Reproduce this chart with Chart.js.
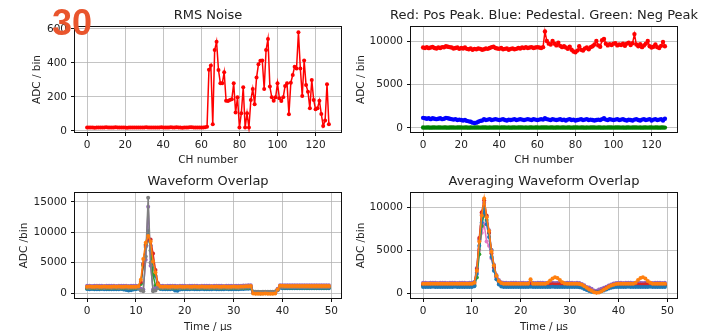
<!doctype html>
<html>
<head>
<meta charset="utf-8">
<title>Noise / Peaks / Waveforms</title>
<script src="https://cdn.jsdelivr.net/npm/chart.js@4.4.1/dist/chart.umd.min.js"></script>
<style>
  html, body { margin: 0; padding: 0; background: #fff; overflow: hidden; }
  #wrap { position: relative; width: 708px; height: 331px; }
  canvas { position: absolute; }
  #num { position: absolute; left: 52px; top: 5px; font: bold 36px/36px "Liberation Sans", Arial, sans-serif; color: #e9552d; z-index: 2; }
</style>
</head>
<body>
<div id="wrap">
  <canvas id="c1" width="354" height="168" style="left:0;top:0"></canvas>
  <canvas id="c2" width="354" height="168" style="left:354px;top:0"></canvas>
  <canvas id="c3" width="354" height="166" style="left:0;top:168px"></canvas>
  <canvas id="c4" width="354" height="166" style="left:354px;top:168px"></canvas>
  <div id="num">30</div>
</div>
<script>
// ---- data ----
var chTicks = [0, 20, 40, 60, 80, 100, 120];
var rmsTicks = [0, 200, 400, 600];
var peakTicks = [0, 5000, 10000];
var timeTicks = [0, 10, 20, 30, 40, 50];
var waveTicks = [0, 5000, 10000, 15000];
var avgTicks = [0, 5000, 10000];

var rms = [20,21,20,20,19,20,21,20,20,20, 22,20,20,21,20,22,20,21,20,20, 20,19,20,20,21,20,20,20,20,21,
  20,22,20,20,20,20,21,20,20,22, 20,20,21,20,22,20,21,22,21,20, 19,20,20,21,22,22,20,20,21,20, 20,21,22,25,
  360,385,40,476,525,359,280,280,345,178, 176,182,186,280,108,198,20,104,257,20, 104,20,182,247,157,314,392,412,414,247,
  476,541,261,198,178,198,280,192,176,198, 265,280,98,284,329,378,367,580,367,206, 414,270,231,133,300,182,127,133,178,100,
  29,61,275,39];

var posPeak = [9250,9200,9300,9180,9250,9320,9200,9150,9250,9200, 9300,9280,9400,9350,9300,9250,9150,9200,9250,9100,
  9200,9150,9250,9100,9050,9150,9000,9100,9050,9150, 9100,9000,9050,9150,9100,9200,9300,9350,9200,9150,
  9100,9200,9050,9100,9150,9000,9100,9150,9050,9100, 9200,9150,9250,9200,9300,9200,9250,9300,9200,9250,
  9300,9250,9200,9300,
  11100,10000,9700,9600,10000,9700,9500,9800,9450,9300, 9400,9250,9100,9350,9000,8800,8700,8900,9400,9000,
  8900,9150,9250,9050,9300,9400,9600,10000,9500,9350, 10100,10250,9700,9500,9650,9550,9700,9750,9500,9600,
  9550,9700,9450,9700,9800,9550,9750,10800,9600,9400, 9650,9300,9500,9700,10000,9400,9250,9350,9600,9300,
  9200,9450,9900,9400];

var pedestal = [1150,1100,1050,1100,1000,1100,1050,1000,1050,1100, 1000,1050,1150,1100,1050,1000,950,1000,900,950,
  900,850,900,800,750,700,600,550,600,700, 800,850,1000,900,950,1000,900,950,1000,950,
  900,950,1000,900,850,950,900,950,1000,900, 950,1000,950,900,950,1000,950,900,1000,950,
  900,950,1000,950,1100,1000,950,900,1000,950, 900,950,1000,900,950,850,950,1000,900,950,
  850,900,950,1000,900,950,1000,900,950,900, 850,900,950,900,1000,1100,950,900,1000,950,
  900,950,1000,900,950,1000,900,850,950,900, 850,950,1000,900,850,950,1000,900,950,1000,
  850,950,1000,900,950,1000,850,1050];

var negPeak = [30,25,35,30,20,30,35,25,30,30, 25,35,30,20,30,35,30,25,30,35, 30,25,30,35,20,30,25,30,35,30,
  25,30,35,30,20,30,25,35,30,30, 25,30,35,30,25,30,20,35,30,25, 30,35,30,25,30,20,30,35,25,30,
  30,25,35,30,40,30,25,35,30,20, 30,35,25,30,30,25,35,30,20,30, 35,30,25,30,35,20,30,25,30,35,
  30,25,30,35,20,30,25,35,30,30, 25,30,35,30,25,30,20,35,30,25, 30,35,30,25,30,20,30,35,25,30,
  30,25,35,30,20,30,35,25];

var channels = rms.map(function (v, i) { return i; });

var times = [0,0.5,1,1.5,2,2.5,3,3.5,4,4.5, 5,5.5,6,6.5,7,7.5,8,8.5,9,9.5, 10,10.5,11,11.5,12,12.5,13,13.5,14,14.5,
  15,15.5,16,16.5,17,17.5,18,18.5,19,19.5, 20,20.5,21,21.5,22,22.5,23,23.5,24,24.5, 25,25.5,26,26.5,27,27.5,28,28.5,29,29.5,
  30,30.5,31,31.5,32,32.5,33,33.5,34,34.5, 35,35.5,36,36.5,37,37.5,38,38.5,39,39.5, 40,40.5,41,41.5,42,42.5,43,43.5,44,44.5,
  45,45.5,46,46.5,47,47.5,48,48.5,49,49.5];

// waveform overlap (single events)
var wOrange = [1050,1060,1040,1050,1070,1050,1040,1060,1050,1050, 1040,1060,1050,1070,1040,1050,1060,1050,1040,1050,
  1050,1100,2200,5600,8300,9400,8500,5200,3400,1400, 1080,1050,1060,1040,1050,1060,1050,1040,1060,1050,
  1050,1060,1040,1050,1060,1050,1040,1060,1050,1050, 1040,1060,1050,1070,1040,1050,1060,1050,1040,1050,
  1060,1050,1040,1060,1080,1100,1120,1150,-80,-120, -100,-130,-110,-90,-120,-100,-110,-80,600,1200,
  1180,1150,1160,1140,1150,1160,1150,1140,1160,1150, 1150,1140,1160,1150,1140,1160,1150,1140,1150,1160];
var wGray = [850,840,860,850,830,850,860,840,850,850, 840,860,850,830,850,860,850,840,850,860,
  850,820,400,300,6000,15700,5000,300,400,820, 850,840,860,850,840,850,860,850,840,850,
  860,850,840,850,860,850,840,850,860,850, 840,850,860,850,840,850,860,850,840,850,
  850,860,840,850,870,900,920,950,250,200, 220,180,200,230,200,190,210,250,500,900,
  950,940,960,950,940,950,960,950,940,950, 950,940,960,950,940,950,960,950,940,950];
var wPurple = [1180,1200,1170,1190,1180,1200,1180,1170,1190,1180, 1200,1180,1170,1190,1180,1200,1180,1170,1190,1180,
  1180,1150,700,600,5500,14200,4500,600,800,1150, 1180,1190,1170,1180,1200,1180,1190,1170,1180,1190,
  1180,1170,1190,1180,1200,1180,1170,1190,1180,1200, 1180,1170,1190,1180,1200,1180,1170,1190,1180,1200,
  1190,1180,1200,1180,1220,1250,1280,1300,100,50, 80,40,60,90,50,70,60,100,700,1300,
  1280,1270,1290,1280,1300,1280,1270,1290,1280,1300, 1280,1270,1290,1280,1300,1280,1270,1290,1280,1300];
var wRed = [950,960,940,950,970,950,940,960,950,950, 940,960,950,970,940,950,960,950,940,950,
  950,1000,1800,4800,7800,9000,8800,6500,3800,1600, 1000,950,960,940,950,960,950,940,960,950,
  950,960,940,950,960,950,940,960,950,950, 940,960,950,970,940,950,960,950,940,950,
  960,950,940,960,980,1000,1020,1050,150,100, 120,90,110,130,100,120,110,140,600,1100,
  1080,1050,1060,1040,1050,1060,1050,1040,1060,1050, 1050,1040,1060,1050,1040,1060,1050,1040,1050,1060];
var wGreen = [800,810,790,800,820,800,790,810,800,800, 790,810,800,820,790,800,810,800,790,800,
  800,850,1500,4500,8000,10200,7000,3000,1200,850, 800,810,790,800,810,800,790,800,810,800,
  800,810,790,800,810,800,790,810,800,800, 790,810,800,820,790,800,810,800,790,800,
  810,800,790,810,830,850,870,900,200,150, 170,140,160,180,150,170,160,190,550,1000,
  950,930,940,920,930,940,930,920,940,930, 930,920,940,930,920,940,930,920,930,940];
var wBlue = [650,640,660,630,620,640,650,630,620,640, 620,630,640,620,650,600,480,420,450,600,
  640,700,1600,4800,7600,8800,7800,4800,2800,1000, 650,620,640,630,620,650,400,380,600,640,
  630,640,620,650,630,620,640,650,630,620, 640,630,650,620,640,630,620,650,640,630,
  640,630,620,650,680,700,720,750,0,-50, -30,-60,-40,-20,-50,-30,-40,0,450,850,
  800,780,790,770,780,790,780,770,790,780, 780,770,790,780,770,790,780,770,780,790];

// averaging waveform overlap
var aOrange = [1080,1090,1070,1080,1090,1080,1070,1090,1080,1080, 1070,1090,1080,1090,1070,1080,1090,1080,1070,1080,
  1080,1200,2600,6000,9000,11000,8800,7200,4800,3200, 2000,1400,1150,1080,1090,1070,1080,1090,1080,1070,
  1080,1090,1070,1080,1600,1080,1090,1070,1080,1090, 1080,1200,1450,1700,1830,1750,1500,1250,1100,1080,
  1090,1070,1080,1090,1050,950,800,600,420,250, 100,20,50,200,380,560,720,860,970,1050,
  1090,1080,1070,1090,1080,1090,1080,1200,1500,1750, 1830,1700,1400,1200,1090,1080,1070,1090,1080,1090];
var aBlue = [700,710,690,700,720,700,690,710,700,700, 690,710,700,720,690,700,710,700,690,700,
  700,800,2200,5500,8200,9800,8000,6500,4200,2600, 1600,1000,760,700,710,690,700,710,700,690,
  700,710,690,700,720,700,690,710,700,700, 690,710,700,720,690,700,710,700,690,700,
  710,700,690,710,680,600,480,350,230,150, 100,90,120,200,300,420,520,600,660,690,
  700,710,690,700,720,700,690,710,700,700, 690,710,700,720,690,700,710,700,690,700];
var aRed = [1000,1010,990,1000,1020,1000,990,1010,1000,1000, 990,1010,1000,1020,990,1000,1010,1000,990,1000,
  1000,1150,2800,6400,9400,10800,9000,7000,4600,3000, 1900,1300,1080,1000,1010,990,1000,1010,1000,990,
  1000,1010,990,1000,1020,1000,990,1010,1000,1000, 990,1010,1000,1020,990,1000,1010,1000,990,1000,
  1010,1000,990,1010,980,880,740,560,400,260, 150,100,140,260,420,580,720,840,930,990,
  1000,1010,990,1000,1020,1000,990,1010,1000,1000, 990,1010,1000,1020,990,1000,1010,1000,990,1000];
var aGreen = [850,860,840,850,870,850,840,860,850,850, 840,860,850,870,840,850,860,850,840,850,
  850,900,1800,4500,7800,9200,8500,7000,5000,3200, 2000,1300,950,850,860,840,850,860,850,840,
  850,860,840,850,870,850,840,860,850,850, 840,860,850,870,840,850,860,850,840,850,
  860,850,840,860,830,740,620,480,360,250, 180,160,190,280,400,520,640,740,810,840,
  850,860,840,850,870,850,840,860,850,850, 840,860,850,870,840,850,860,850,840,850];
var aPurple = [1180,1190,1170,1180,1200,1180,1170,1190,1180,1180, 1170,1190,1180,1200,1170,1180,1190,1180,1170,1180,
  1180,1300,2900,6200,9200,10500,8900,7300,5000,3300, 2100,1500,1250,1180,1190,1170,1180,1190,1180,1170,
  1180,1190,1170,1180,1200,1180,1170,1190,1180,1180, 1170,1190,1180,1200,1170,1180,1190,1180,1170,1180,
  1190,1180,1170,1190,1150,1050,900,700,650,500, 300,250,400,500,600,720,860,1000,1100,1170,
  1180,1190,1170,1180,1200,1180,1170,1190,1180,1180, 1170,1190,1180,1200,1170,1180,1190,1180,1170,1180];
var aPink = [900,910,890,900,920,900,890,910,900,900, 890,910,900,920,890,900,910,900,890,900,
  900,1000,2400,5000,7000,8000,6000,5500,4000,2800, 1800,1200,950,900,910,890,900,910,900,890,
  900,910,890,900,920,900,890,910,900,900, 890,910,900,920,890,900,910,900,890,900,
  910,900,890,910,870,780,650,500,380,280, 200,180,210,300,420,540,660,760,840,890,
  900,910,890,900,920,900,890,910,900,900, 890,910,900,920,890,900,910,900,890,900];

// ---- drawing ----
var txt = '#222';
var fam = 'DejaVu Sans';

// black box around each axes (matplotlib spines) + axes title centred on the plot
var frame = {
  id: 'frame',
  afterDraw: function (chart, args, opts) {
    var a = chart.chartArea, c = chart.ctx;
    c.save();
    c.strokeStyle = '#111';
    c.lineWidth = 1;
    c.strokeRect(Math.round(a.left) - 0.5, Math.round(a.top) - 0.5,
      Math.round(a.right - a.left) + 1, Math.round(a.bottom - a.top) + 1);
    c.fillStyle = txt;
    c.font = '13px "' + fam + '"';
    c.textAlign = 'center';
    c.textBaseline = 'middle';
    c.fillText(opts.text, (a.left + a.right) / 2, opts.y);
    c.restore();
  }
};

function fixTicks(list) {
  return function (s) { s.ticks = list.map(function (v) { return { value: v }; }); };
}

function plot(id, o) {
  return new Chart(document.getElementById(id), {
    type: 'line',
    data: {
      labels: o.labels,
      datasets: o.sets.map(function (s) {
        return {
          data: s[0], borderColor: s[1], backgroundColor: s[1],
          pointBackgroundColor: s[1], pointBorderWidth: 0, pointRadius: o.r,
          borderWidth: 1.5, tension: 0
        };
      })
    },
    options: {
      responsive: false, animation: false, events: [],
      layout: { padding: { left: 0, right: o.right, top: o.top, bottom: 0 } },
      plugins: {
        legend: { display: false },
        tooltip: { enabled: false },
        frame: { text: o.title, y: o.ty }
      },
      scales: {
        x: {
          type: 'linear', min: o.xmin, max: o.xmax,
          afterBuildTicks: fixTicks(o.xt),
          afterFit: function (s) { s.height = o.xh; },
          border: { display: false },
          grid: { color: 'rgba(176,176,176,0.75)', lineWidth: 1, tickLength: 4, tickColor: '#111' },
          ticks: { color: txt, font: { family: fam, size: 10.5 }, padding: 3, maxRotation: 0, autoSkip: false,
            callback: function (v) { return String(v); } },
          title: { display: true, text: o.xlabel, color: txt, font: { family: fam, size: 10.5, lineHeight: 1.2 },
            padding: { top: 0, bottom: o.xlp } }
        },
        y: {
          min: o.ymin, max: o.ymax,
          afterBuildTicks: fixTicks(o.yt),
          afterFit: function (s) { s.width = o.yw; },
          border: { display: false },
          grid: { color: 'rgba(176,176,176,0.75)', lineWidth: 1, tickLength: 4, tickColor: '#111' },
          ticks: { color: txt, font: { family: fam, size: 10.5 }, padding: 4, autoSkip: false,
            callback: function (v) { return String(v); } },
          title: { display: true, text: o.ylabel, color: txt, font: { family: fam, size: 10.5, lineHeight: 1.2 },
            padding: { top: o.ylp, bottom: 0 } }
        }
      }
    },
    plugins: [frame]
  });
}

plot('c1', {
  labels: channels, sets: [[rms, '#ff0000']], r: 2,
  title: 'RMS Noise', ty: 16, top: 27,
  xmin: -6.35, xmax: 133.35, xt: chTicks, xh: 36, xlabel: 'CH number', xlp: 1.7,
  ymin: -6, ymax: 611, yt: rmsTicks, yw: 75, ylabel: 'ADC / bin', ylp: 30.7, right: 13
});

plot('c2', {
  labels: channels, sets: [[posPeak, '#ff0000'], [pedestal, '#0000ff'], [negPeak, '#008000']], r: 2.2,
  title: 'Red: Pos Peak. Blue: Pedestal. Green: Neg Peak', ty: 16, top: 27,
  xmin: -6.35, xmax: 133.35, xt: chTicks, xh: 36, xlabel: 'CH number', xlp: 1.7,
  ymin: -480, ymax: 11620, yt: peakTicks, yw: 57, ylabel: 'ADC / bin', ylp: 0.7, right: 31
});

plot('c3', {
  labels: times, r: 2,
  sets: [[wOrange, '#ff7f0e'], [wGray, '#7f7f7f'], [wPurple, '#9467bd'], [wRed, '#d62728'],
    [wGreen, '#2ca02c'], [wBlue, '#1f77b4']],
  title: 'Waveform Overlap', ty: 14, top: 25,
  xmin: -2.475, xmax: 51.975, xt: timeTicks, xh: 36, xlabel: 'Time / μs', xlp: 0.7,
  ymin: -820, ymax: 16480, yt: waveTicks, yw: 75, ylabel: 'ADC /bin', ylp: 17.7, right: 13
});

plot('c4', {
  labels: times, r: 2,
  sets: [[aOrange, '#ff7f0e'], [aBlue, '#1f77b4'], [aRed, '#d62728'], [aPurple, '#9467bd'],
    [aGreen, '#2ca02c'], [aPink, '#e377c2']],
  title: 'Averaging Waveform Overlap', ty: 14, top: 25,
  xmin: -2.475, xmax: 51.975, xt: timeTicks, xh: 36, xlabel: 'Time / μs', xlp: 0.7,
  ymin: -580, ymax: 11630, yt: avgTicks, yw: 57, ylabel: 'ADC /bin', ylp: 0.7, right: 31
});
</script>
</body>
</html>
